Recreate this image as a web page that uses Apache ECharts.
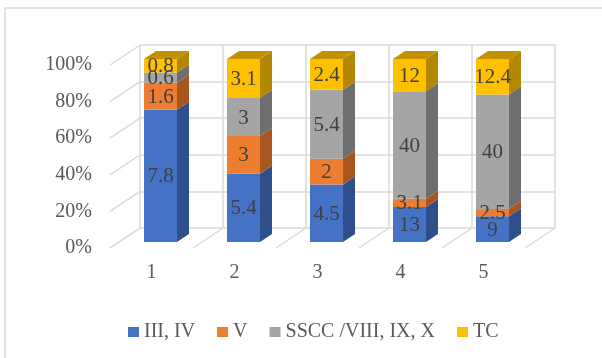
<!DOCTYPE html>
<html>
<head>
<meta charset="utf-8">
<script src="https://cdn.jsdelivr.net/npm/echarts@6/dist/echarts.min.js"></script>
<style>
  html, body { margin: 0; padding: 0; background: #ffffff; }
  #chart { width: 602px; height: 358px; }
</style>
</head>
<body>
<div id="chart"></div>
<script>
// ---- data ----
const categories = ['1', '2', '3', '4', '5'];
const seriesNames = ['III, IV', 'V', 'SSCC /VIII, IX, X', 'TC'];
const grpIIIIV = [7.8, 5.4, 4.5, 13, 9];
const grpV = [1.6, 3, 2, 3.1, 2.5];
const grpSSCC = [0.6, 3, 5.4, 40, 40];
const grpTC = [0.8, 3.1, 2.4, 12, 12.4];
const pctTicks = [0, 20, 40, 60, 80, 100];

// ---- styling ----
const FONT = "'Liberation Serif', 'Times New Roman', serif";
const frontColors = ['#4472C4', '#ED7D31', '#A5A5A5', '#FFC000'];
const sideColors = ['#2E4F8C', '#A9561E', '#6E6E6E', '#B38700'];
const topColors = ['#3A62A8', '#C8692A', '#8C8C8C', '#C39200'];
const gridColor = '#d9d9d9';

const layers = [grpIIIIV, grpV, grpSSCC, grpTC];
const totals = categories.map((_, i) => layers.reduce((a, l) => a + l[i], 0));

// Oblique projection: depth 0 is the back wall, depth 1 the front plane
const DEPTH_DX = -30, DEPTH_DY = 20;
const BAR_FRONT = 0.7, BAR_BACK = 0.3;
const BAR_W = 33;

function layerStart(k, i) {
  let s = 0;
  for (let j = 0; j < k; j++) s += layers[j][i];
  return s / totals[i] * 100;
}

// Front face geometry of one stacked segment
function segment(api, k, i) {
  const start = layerStart(k, i);
  const end = start + layers[k][i] / totals[i] * 100;
  const pb = api.coord([i, start]);
  const pt = api.coord([i, end]);
  const fx = pb[0] + BAR_FRONT * DEPTH_DX;
  return {
    fx: fx,
    x0: fx - BAR_W / 2,
    x1: fx + BAR_W / 2,
    y0: pb[1] + BAR_FRONT * DEPTH_DY,
    y1: pt[1] + BAR_FRONT * DEPTH_DY
  };
}

function barRender(k) {
  return function (params, api) {
    const i = api.value(0);
    const s = segment(api, k, i);
    const ddx = (BAR_BACK - BAR_FRONT) * DEPTH_DX;
    const ddy = (BAR_BACK - BAR_FRONT) * DEPTH_DY;
    const children = [
      {
        type: 'polygon',
        shape: { points: [[s.x1, s.y0], [s.x1 + ddx, s.y0 + ddy], [s.x1 + ddx, s.y1 + ddy], [s.x1, s.y1]] },
        style: { fill: sideColors[k] }
      },
      {
        type: 'rect',
        shape: { x: s.x0, y: s.y1, width: BAR_W, height: s.y0 - s.y1 },
        style: { fill: frontColors[k] }
      }
    ];
    if (k === layers.length - 1) {
      children.push({
        type: 'polygon',
        shape: { points: [[s.x0, s.y1], [s.x1, s.y1], [s.x1 + ddx, s.y1 + ddy], [s.x0 + ddx, s.y1 + ddy]] },
        style: { fill: topColors[k] }
      });
    }
    return { type: 'group', children: children };
  };
}

// Value labels for every segment of a column, drawn above all bars
function labelRender(params, api) {
  const i = api.value(0);
  const texts = layers.map((l, k) => {
    const s = segment(api, k, i);
    return {
      type: 'text',
      style: {
        x: s.fx, y: (s.y0 + s.y1) / 2 + 1,
        text: String(l[i]),
        align: 'center', verticalAlign: 'middle',
        fontFamily: FONT, fontSize: 21, fill: '#404040'
      }
    };
  });
  return { type: 'group', children: texts };
}

// Side-wall and floor receding lines
function frameRender(params, api) {
  const lines = [];
  const band = api.size([1, 0])[0];
  const style = { stroke: gridColor, lineWidth: 1.5 };
  pctTicks.forEach(t => {
    const p = api.coord([0, t]);
    const x = p[0] - band / 2;
    lines.push({ type: 'line', shape: { x1: x, y1: p[1], x2: x + DEPTH_DX, y2: p[1] + DEPTH_DY }, style: style });
  });
  for (let i = 0; i <= categories.length; i++) {
    const p = api.coord([Math.min(i, categories.length - 1), 0]);
    const x = i < categories.length ? p[0] - band / 2 : p[0] + band / 2;
    lines.push({ type: 'line', shape: { x1: x, y1: p[1], x2: x + DEPTH_DX, y2: p[1] + DEPTH_DY }, style: style });
  }
  return { type: 'group', children: lines };
}

const chart = echarts.init(document.getElementById('chart'), null, { renderer: 'canvas' });

const series = [{
  type: 'custom',
  name: 'frame',
  xAxisIndex: 0, yAxisIndex: 0,
  silent: true,
  z: 1,
  data: [[0, 0]],
  renderItem: frameRender
}];
layers.forEach((l, k) => {
  series.push({
    type: 'custom',
    name: seriesNames[k],
    xAxisIndex: 0, yAxisIndex: 0,
    z: 2 + k,
    itemStyle: { color: frontColors[k] },
    data: categories.map((c, i) => [i, l[i]]),
    encode: { x: 0, y: 1 },
    renderItem: barRender(k)
  });
});
series.push({
  type: 'custom',
  name: 'labels',
  xAxisIndex: 0, yAxisIndex: 0,
  silent: true,
  z: 20,
  data: categories.map((c, i) => [i, 0]),
  encode: { x: 0, y: 1 },
  renderItem: labelRender
});

chart.setOption({
  animation: false,
  backgroundColor: '#ffffff',
  graphic: [{
    type: 'rect',
    shape: { x: 5, y: 8, width: 640, height: 400 },
    style: { fill: 'none', stroke: gridColor, lineWidth: 1.5 },
    silent: true
  }],
  grid: [
    { left: 140, top: 45, width: 415, height: 183 },
    { left: 110, top: 65, width: 415, height: 183 }
  ],
  xAxis: [
    {
      gridIndex: 0, type: 'category', data: categories, boundaryGap: true,
      axisLine: { show: false }, axisTick: { show: false }, axisLabel: { show: false },
      splitLine: { show: true, interval: 0, lineStyle: { color: gridColor, width: 1.5 } }
    },
    {
      gridIndex: 1, type: 'category', data: categories, boundaryGap: true,
      axisLine: { show: false }, axisTick: { show: false },
      axisLabel: { margin: 15, fontFamily: FONT, fontSize: 20, color: '#595959' },
      splitLine: { show: false }
    }
  ],
  yAxis: [
    {
      gridIndex: 0, type: 'value', min: 0, max: 100, interval: 20,
      axisLine: { show: false }, axisTick: { show: false }, axisLabel: { show: false },
      splitLine: { show: true, lineStyle: { color: gridColor, width: 1.5 } }
    },
    {
      gridIndex: 1, type: 'value', min: 0, max: 100, interval: 20,
      axisLine: { show: false }, axisTick: { show: false },
      axisLabel: { margin: 18, formatter: '{value}%', fontFamily: FONT, fontSize: 20, color: '#595959' },
      splitLine: { show: false }
    }
  ],
  legend: {
    data: seriesNames,
    left: 123, top: 317,
    icon: 'rect', itemWidth: 11, itemHeight: 10, itemGap: 22,
    textStyle: { fontFamily: FONT, fontSize: 20, color: '#595959' }
  },
  series: series
});
</script>
</body>
</html>
